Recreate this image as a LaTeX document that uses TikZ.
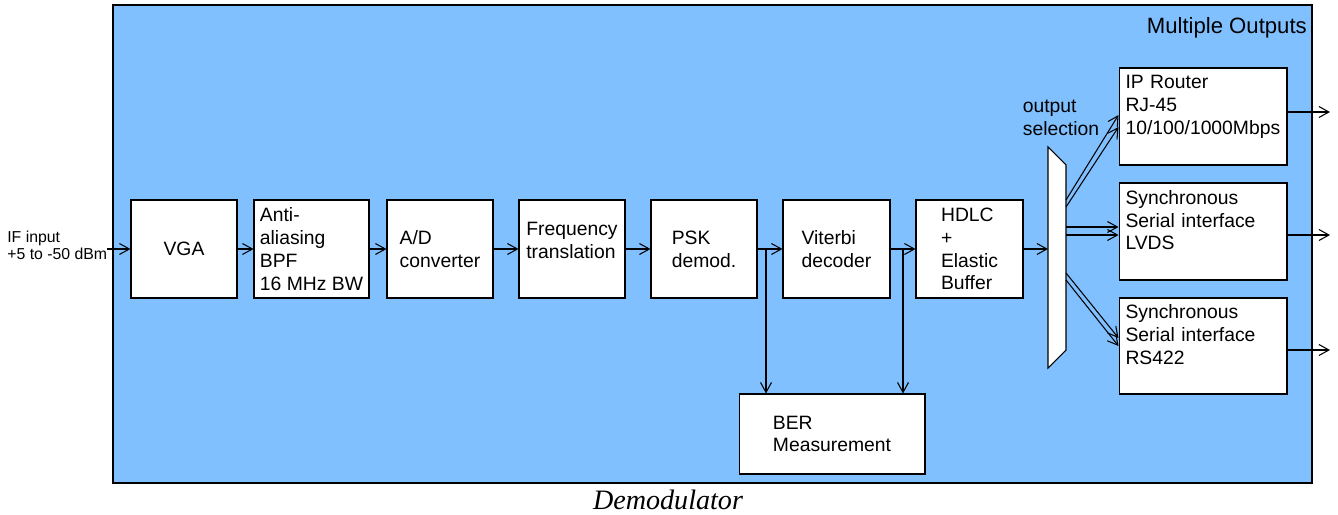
\documentclass[tikz,border=0pt]{standalone}
\usepackage{fontspec}
\setmainfont{Liberation Sans}
\newfontfamily\captionfont{Liberation Serif}
\usetikzlibrary{arrows.meta}
\definecolor{demodblue}{RGB}{128,192,255}

\begin{document}
\begin{tikzpicture}[x=0.02cm,y=-0.02cm,
    blk/.style={draw,fill=white,line width=0.6pt,inner sep=2pt,align=left,
      font=\fontsize{11}{13}\selectfont,minimum height=1.96cm,minimum width=2.12cm},
    outblk/.style={blk,minimum width=3.36cm,minimum height=1.94cm,text width=3.1cm},
    arr/.style={line width=0.6pt,-{Straight Barb[length=2mm,width=2.2mm]}}]
  \useasboundingbox (0,0) rectangle (1338,514);

  % Demodulator background
  \draw[fill=demodblue,line width=0.6pt] (113,5) rectangle (1312,483);
  \node[anchor=east,font=\fontsize{12.6}{14}\selectfont] (mout) at (1313,28) {Multiple Outputs};

  % Processing chain
  \node[blk] (vga) at (184,249) {VGA};
  \node[blk,minimum width=2.30cm] (aaf) at (311.5,249) {Anti-\\aliasing\\BPF\\16 MHz BW};
  \node[blk] (adc) at (440,249) {A/D\\converter};
  \node[blk] (frq) at (572,249) {Frequency\\translation\\[-3pt]};
  \node[blk] (psk) at (704,249) {PSK\\demod.};
  \node[blk,minimum width=2.14cm] (vit) at (836.5,249) {Viterbi\\decoder};
  \node[blk,minimum width=2.14cm] (hdlc) at (969.5,249) {HDLC\\+\\Elastic\\Buffer};
  \node[blk,minimum width=3.72cm,minimum height=1.60cm] (ber) at (832,434) {BER\\Measurement};

  % Input
  \node[align=left,anchor=west,inner sep=0pt,font=\fontsize{9}{9.5}\selectfont] (ifin) at (7,245) {IF input\\+5 to -50 dBm};

  % Output interfaces
  \node[outblk] (ipr) at (1203,116.5) {IP Router\\RJ-45\\10/100/1000Mbps\\\mbox{}};
  \node[outblk] (lvds) at (1203,231.5) {Synchronous\\Serial interface\\LVDS\\\mbox{}};
  \node[outblk,minimum height=1.92cm] (rs) at (1203,346) {Synchronous\\Serial interface\\RS422\\\mbox{}};

  % Output selection (mux)
  \draw[fill=white,line width=0.6pt] (1048,147) -- (1066,165) -- (1066,350) -- (1048,368) -- cycle;
  \node[align=left,font=\fontsize{11}{13}\selectfont] (sel) at (1061,118) {output\\selection};
  \coordinate (mi) at (1048,249);
  \coordinate (ma1) at (1066,200);
  \coordinate (ma2) at (1066,207);
  \coordinate (mb1) at (1066,227);
  \coordinate (mb2) at (1066,235);
  \coordinate (mc1) at (1066,273);
  \coordinate (mc2) at (1066,280);

  % Chain arrows
  \draw[arr] (ifin.east |- vga.west) -- (vga.west);
  \draw[arr] (vga) -- (aaf);
  \draw[arr] (aaf) -- (adc);
  \draw[arr] (adc) -- (frq);
  \draw[arr] (frq) -- (psk);
  \draw[arr] (psk) -- (vit);
  \draw[arr] (vit) -- (hdlc);
  \draw[arr] (hdlc.east) -- (mi);

  % Branches to BER
  \coordinate (b1) at (766,249);
  \coordinate (b2) at (903,249);
  \draw[arr] (b1) -- (b1 |- ber.north);
  \draw[arr] (b2) -- (b2 |- ber.north);

  % Mux outputs
  \draw[arr] (ma1) -- (ipr.west |- 0,115);
  \draw[arr] (ma2) -- (ipr.west |- 0,127);
  \draw[arr] (mb1) -- (lvds.west |- mb1);
  \draw[arr] (mb2) -- (lvds.west |- mb2);
  \draw[arr] (mc1) -- (rs.west |- 0,338);
  \draw[arr] (mc2) -- (rs.west |- 0,346);

  % Outputs
  \coordinate (o1) at (1330,112);
  \coordinate (o2) at (1330,235);
  \coordinate (o3) at (1330,350);
  \draw[arr] (ipr.east |- o1) -- (o1);
  \draw[arr] (lvds.east |- o2) -- (o2);
  \draw[arr] (rs.east |- o3) -- (o3);

  % Caption
  \node[font=\captionfont\itshape\fontsize{16}{18}\selectfont] (cap) at (668,500) {Demodulator};
\end{tikzpicture}
\end{document}
